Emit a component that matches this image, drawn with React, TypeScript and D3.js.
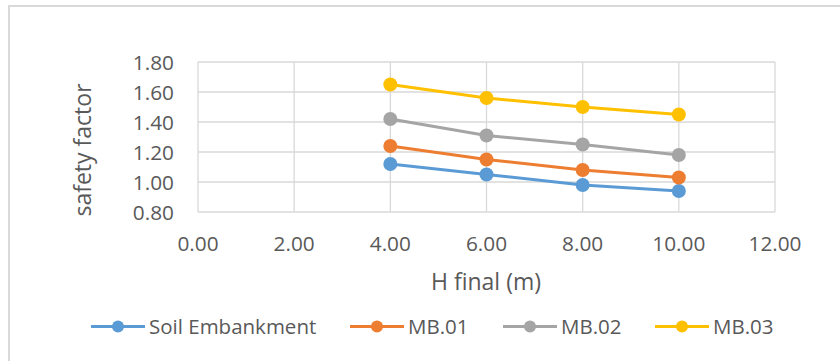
import React from "react";
import * as d3 from "d3";

// Final embankment height (m)
const heights = [4, 6, 8, 10];
const seriesNames = ["Soil Embankment", "MB.01", "MB.02", "MB.03"];
const soilEmbankment = [1.12, 1.05, 0.98, 0.94];
const mb01 = [1.24, 1.15, 1.08, 1.03];
const mb02 = [1.42, 1.31, 1.25, 1.18];
const mb03 = [1.65, 1.56, 1.5, 1.45];
const xTicks = [0, 2, 4, 6, 8, 10, 12];
const yTicks = [0.8, 1.0, 1.2, 1.4, 1.6, 1.8];

const colors = ["#5b9bd5", "#ed7d31", "#a5a5a5", "#ffc000"];
const legendX = [91, 350, 503, 655];

const W = 840;
const H = 361;
const FONT = "'Open Sans', sans-serif";
const TEXT = "#595959";
const GRID = "#d9d9d9";

export default function App() {
  const x = d3.scaleLinear().domain([0, 12]).range([198, 775]);
  const y = d3.scaleLinear().domain([0.8, 1.8]).range([212, 62]);
  const series = [soilEmbankment, mb01, mb02, mb03];
  const line = d3
    .line<number>()
    .x((_, i) => x(heights[i]))
    .y((d) => y(d));

  return (
    <svg
      width={W}
      height={H}
      style={{ position: "absolute", left: 0, top: 0, background: "#fff" }}
      fontFamily={FONT}
    >
      {/* chart frame */}
      <rect x={9} y={6} width={W + 20} height={H + 20} fill="#fff" stroke={GRID} strokeWidth={2} />

      {/* gridlines */}
      {yTicks.map((t) => (
        <line key={"gy" + t} x1={x(0)} x2={x(12)} y1={y(t)} y2={y(t)} stroke={GRID} strokeWidth={1.3} />
      ))}
      {xTicks.map((t) => (
        <line key={"gx" + t} x1={x(t)} x2={x(t)} y1={y(0.8)} y2={y(1.8)} stroke={GRID} strokeWidth={1.3} />
      ))}

      {/* y tick labels */}
      {yTicks.map((t) => (
        <text key={"ty" + t} x={174} y={y(t) + 7.5} textAnchor="end" fontSize={20.8} fill={TEXT}>
          {d3.format(".2f")(t)}
        </text>
      ))}
      {/* x tick labels */}
      {xTicks.map((t) => (
        <text key={"tx" + t} x={x(t)} y={251} textAnchor="middle" fontSize={20.8} fill={TEXT}>
          {d3.format(".2f")(t)}
        </text>
      ))}

      {/* axis titles */}
      <text x={486} y={290} textAnchor="middle" fontSize={23} fill={TEXT}>
        H final (m)
      </text>
      <text
        transform={`translate(91,150) rotate(-90)`}
        textAnchor="middle"
        fontSize={23}
        fill={TEXT}
      >
        safety factor
      </text>

      {/* series */}
      {series.map((vals, si) => (
        <g key={"s" + si}>
          <path d={line(vals) || ""} fill="none" stroke={colors[si]} strokeWidth={3} strokeLinejoin="round" />
          {vals.map((v, i) => (
            <circle key={i} cx={x(heights[i])} cy={y(v)} r={7} fill={colors[si]} />
          ))}
        </g>
      ))}

      {/* legend */}
      {seriesNames.map((name, si) => (
        <g key={"l" + si} transform={`translate(${legendX[si]},326.5)`}>
          <line x1={0} x2={54} y1={0} y2={0} stroke={colors[si]} strokeWidth={3} />
          <circle cx={27} cy={0} r={6} fill={colors[si]} />
          <text x={58} y={7} fontSize={20.5} fill={TEXT}>
            {name}
          </text>
        </g>
      ))}
    </svg>
  );
}
